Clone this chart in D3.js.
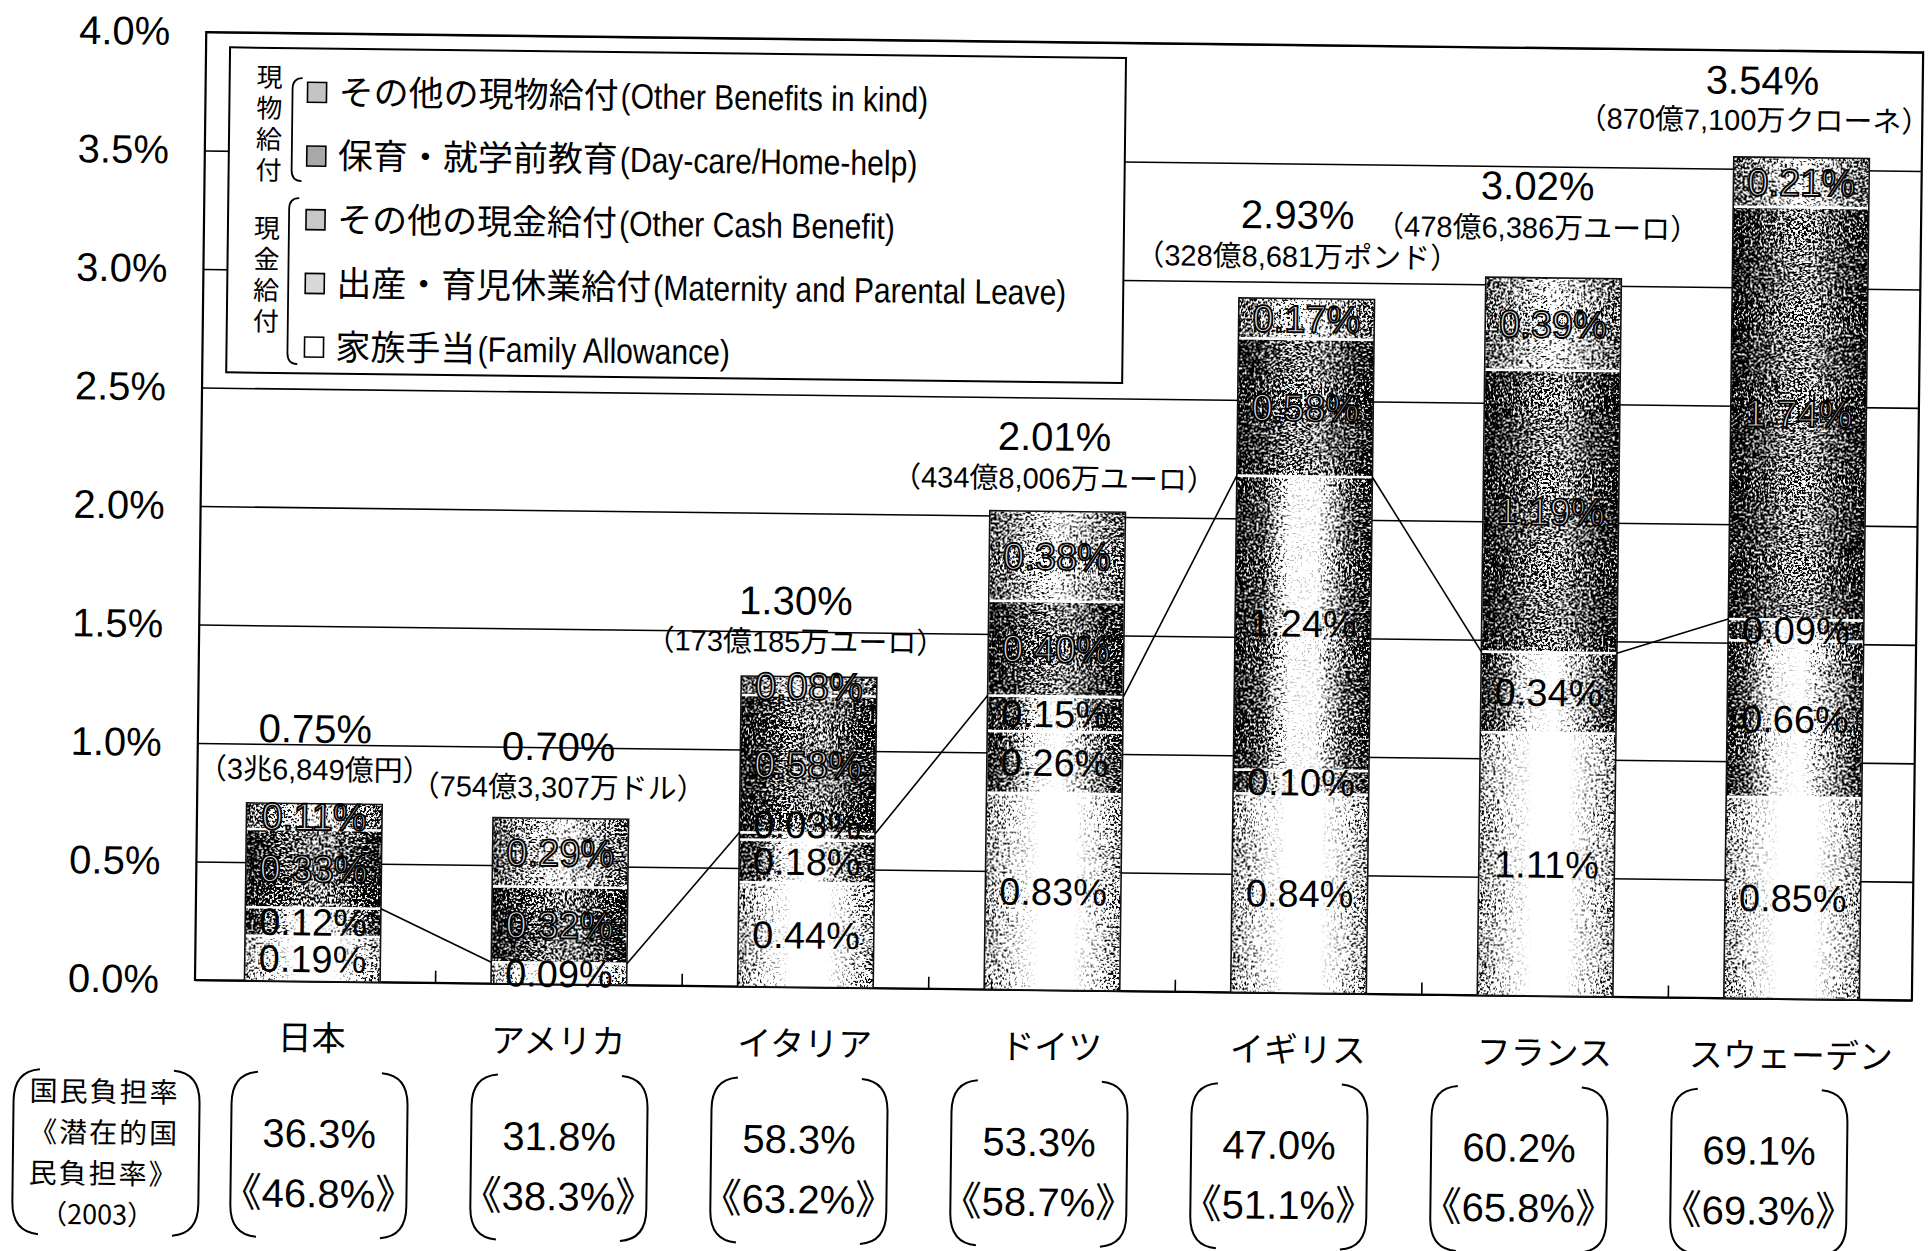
<!DOCTYPE html>
<html><head><meta charset="utf-8">
<script src="https://cdn.jsdelivr.net/npm/d3@7/dist/d3.min.js"></script>
<style>
html,body{margin:0;padding:0;background:#fff;overflow:hidden;}
svg{display:block;}
</style></head><body>
<script>
// ---------------- data ----------------
const countries = ["日本","アメリカ","イタリア","ドイツ","イギリス","フランス","スウェーデン"];
const familyAllowance   = [0.19, 0.09, 0.44, 0.83, 0.84, 1.11, 0.85];
const maternityLeave    = [0.12, 0.00, 0.18, 0.26, 0.10, 0.34, 0.66];
const otherCashBenefit  = [0.00, 0.00, 0.03, 0.15, 1.24, 0.00, 0.09];
const dayCareHomeHelp   = [0.33, 0.32, 0.58, 0.40, 0.58, 1.19, 1.74];
const otherBenefitsKind = [0.11, 0.29, 0.08, 0.38, 0.17, 0.39, 0.21];
const totalLabels  = ["0.75%","0.70%","1.30%","2.01%","2.93%","3.02%","3.54%"];
const amountLabels = ["（3兆6,849億円）","（754億3,307万ドル）","（173億185万ユーロ）","（434億8,006万ユーロ）","（328億8,681万ポンド）","（478億6,386万ユーロ）","（870億7,100万クローネ）"];
const burdenRate          = ["36.3%","31.8%","58.3%","53.3%","47.0%","60.2%","69.1%"];
const potentialBurdenRate = ["46.8%","38.3%","63.2%","58.7%","51.1%","65.8%","69.3%"];
const yTickValues = [0, 0.5, 1, 1.5, 2, 2.5, 3, 3.5, 4];
const yTickLabels = ["0.0%","0.5%","1.0%","1.5%","2.0%","2.5%","3.0%","3.5%","4.0%"];
const seriesKeys = ["family","maternity","otherCash","dayCare","otherKind"];
const legendKeys = ["otherKind","dayCare","otherCash","maternity","family"];
const legendJP = ["その他の現物給付","保育・就学前教育","その他の現金給付","出産・育児休業給付","家族手当"];
const legendEN = ["(Other Benefits in kind)","(Day-care/Home-help)","(Other Cash Benefit)","(Maternity and Parental Leave)","(Family Allowance)"];
const groupKindLabel = "現物給付";
const groupCashLabel = "現金給付";
const footerTitle = ["国民負担率","《潜在的国","民負担率》","（2003）"];

// ---------------- layout / style ----------------
const W = 1932, H = 1251;
const plotL = 195, plotR = 1912, plotT = 32, plotB = 980;
const labelDx = [0, -3, -14, -4, -10, -17, -40];
const amtDx   = [0, -3, -14, -4, -10, -17, -48];
const pctLift = [75, 72, 76, 75, 84, 92, 77];
const amtLift = [34, 31, 35, 33, 42, 50, 37];
const gradStops = {
  family:    [[0,0.5],[0.2,0.85],[0.4,1],[0.65,1],[0.85,0.8],[1,0.5]],
  maternity: [[0,0.05],[0.15,0.3],[0.35,0.9],[0.55,1],[0.75,0.6],[1,0.1]],
  otherCash: [[0,0.05],[0.2,0.25],[0.4,0.95],[0.6,0.95],[0.8,0.35],[1,0.05]],
  dayCare:   [[0,0.0],[0.4,0.4],[0.6,0.45],[1,0.02]],
  otherKind: [[0,0.28],[0.5,0.85],[1,0.3]]
};
const swatchFill = {otherKind:"#c4c4c4", dayCare:"#a8a8a8", otherCash:"#c8c8c8", maternity:"#d8d8d8", family:"#ffffff"};
const outlinedLabel = new Set(["dayCare","otherKind"]);
const LAT = "'Liberation Sans', Arial, 'Noto Sans CJK JP', sans-serif";
const JP = "'Noto Sans CJK JP', 'Noto Sans CJK SC', sans-serif";

const rows = countries.map((c, i) => ({
  country: c,
  family: familyAllowance[i], maternity: maternityLeave[i], otherCash: otherCashBenefit[i],
  dayCare: dayCareHomeHelp[i], otherKind: otherBenefitsKind[i]
}));
const stacked = d3.stack().keys(seriesKeys)(rows);

const svg = d3.select("body").append("svg").attr("width", W).attr("height", H);
const defs = svg.append("defs");

// grain / dither filter
const flt = defs.append("filter").attr("id","grain")
  .attr("x",0).attr("y",0).attr("width",1).attr("height",1)
  .attr("color-interpolation-filters","sRGB");
flt.append("feTurbulence").attr("type","fractalNoise").attr("baseFrequency",0.45)
  .attr("numOctaves",3).attr("seed",11).attr("result","noise");
flt.append("feColorMatrix").attr("in","noise").attr("type","matrix")
  .attr("values","3 0 0 0 -1  3 0 0 0 -1  3 0 0 0 -1  0 0 0 0 1").attr("result","n2");
flt.append("feComposite").attr("in","SourceGraphic").attr("in2","n2")
  .attr("operator","arithmetic").attr("k1",0).attr("k2",5).attr("k3",-5).attr("k4",1);

seriesKeys.forEach(k => {
  const g = defs.append("linearGradient").attr("id","g-"+k)
    .attr("x1",0).attr("x2",1).attr("y1",0).attr("y2",0);
  gradStops[k].forEach(([o,l]) => {
    const v = Math.round(l*255);
    g.append("stop").attr("offset",o).attr("stop-color",`rgb(${v},${v},${v})`);
  });
});

const root = svg.append("g").attr("transform", `rotate(0.68 ${plotL} ${plotB})`);

const x = d3.scaleBand().domain(countries).range([189, 1915]).paddingInner(0.45).paddingOuter(0.225);
const y = d3.scaleLinear().domain([0, 4]).range([plotB, plotT]);
const bw = x.bandwidth();

// gridlines
root.append("g").attr("transform",`translate(${plotL},0)`)
  .call(d3.axisRight(y).tickValues(yTickValues).tickSize(plotR-plotL).tickFormat(""))
  .call(g => g.select(".domain").remove())
  .selectAll("line").attr("stroke","#000").attr("stroke-width",1.6);

// y labels
root.append("g").attr("transform",`translate(${plotL},0)`)
  .call(d3.axisLeft(y).tickValues(yTickValues).tickFormat((d,i)=>yTickLabels[i]).tickSize(0).tickPadding(36))
  .call(g => g.select(".domain").remove())
  .selectAll("text").attr("font-size",40).attr("font-family",LAT).attr("fill","#000");

// frame
root.append("rect").attr("x",plotL).attr("y",plotT).attr("width",plotR-plotL).attr("height",plotB-plotT)
  .attr("fill","none").attr("stroke","#000").attr("stroke-width",2.2);

// x ticks at band boundaries
root.append("g").selectAll("line").data(countries.slice(1)).join("line")
  .attr("x1", c => x(c) - x.step()*x.paddingInner()/2)
  .attr("x2", c => x(c) - x.step()*x.paddingInner()/2)
  .attr("y1", plotB).attr("y2", plotB-12).attr("stroke","#000").attr("stroke-width",1.6);

// country names
root.append("g").attr("transform",`translate(0,${plotB})`)
  .call(d3.axisBottom(x).tickSize(0).tickPadding(0))
  .call(g => g.select(".domain").remove())
  .selectAll("text").attr("y",57).attr("dy","0.35em").attr("font-size",34)
  .attr("font-family",JP).attr("fill","#000");

// bars
const barG = root.append("g");
stacked.forEach(layer => {
  const k = layer.key;
  barG.append("g").selectAll("rect").data(layer.filter(d => d[1]-d[0] > 0)).join("rect")
    .attr("x", d => x(d.data.country)).attr("width", bw)
    .attr("y", d => y(d[1])).attr("height", d => y(d[0]) - y(d[1]))
    .attr("fill", `url(#g-${k})`).attr("filter","url(#grain)");
});
// separators
stacked.slice(0, -1).forEach(layer => {
  barG.append("g").selectAll("line").data(layer.filter(d => d[1]-d[0] > 0 && d[1] < d3.sum(seriesKeys, k => d.data[k]) - 1e-9)).join("line")
    .attr("x1", d => x(d.data.country)).attr("x2", d => x(d.data.country)+bw)
    .attr("y1", d => y(d[1])).attr("y2", d => y(d[1]))
    .attr("stroke","#fff").attr("stroke-width",2.6);
});
// outlines
barG.append("g").selectAll("rect").data(rows).join("rect")
  .attr("x", d => x(d.country)).attr("width", bw)
  .attr("y", d => y(d3.sum(seriesKeys, k => d[k]))).attr("height", d => plotB - y(d3.sum(seriesKeys, k => d[k])))
  .attr("fill","none").attr("stroke","#111").attr("stroke-width",1.6);

// series lines (top of cash benefits)
const cashTop = rows.map(d => d.family + d.maternity + d.otherCash);
root.append("g").selectAll("line").data(d3.range(countries.length-1)).join("line")
  .attr("x1", i => x(countries[i]) + bw).attr("y1", i => y(cashTop[i]))
  .attr("x2", i => x(countries[i+1])).attr("y2", i => y(cashTop[i+1]))
  .attr("stroke","#000").attr("stroke-width",1.6);

// segment labels
stacked.forEach(layer => {
  const k = layer.key;
  root.append("g").selectAll("text").data(layer.filter(d => d[1]-d[0] > 0)).join("text")
    .attr("x", d => x(d.data.country) + bw/2)
    .attr("y", d => y((d[0]+d[1])/2) - ((d[1]-d[0]) < 0.05 ? 12 : 0))
    .attr("dy","0.35em").attr("text-anchor","middle")
    .attr("font-size",38).attr("font-family",LAT)
    .attr("fill", outlinedLabel.has(k) ? "#e0e0e0" : "#000")
    .attr("stroke", outlinedLabel.has(k) ? "#000" : "none")
    .attr("stroke-width", 1.8)
    .text(d => (d[1]-d[0]).toFixed(2) + "%");
});

// totals and amounts
const topG = root.append("g");
rows.forEach((d, i) => {
  const top = y(d3.sum(seriesKeys, k => d[k]));
  const cx = x(d.country) + bw/2;
  topG.append("text").attr("x", cx + labelDx[i]).attr("y", top - pctLift[i]).attr("dy","0.35em")
    .attr("text-anchor","middle").attr("font-size",40).attr("font-family",LAT).text(totalLabels[i]);
  topG.append("text").attr("x", cx + amtDx[i]).attr("y", top - amtLift[i]).attr("dy","0.35em")
    .attr("text-anchor","middle").attr("font-size",29).attr("font-family",LAT).text(amountLabels[i]);
});

// legend
const lg = root.append("g");
lg.append("rect").attr("x",219).attr("y",47).attr("width",896).attr("height",325)
  .attr("fill","#fff").attr("stroke","#000").attr("stroke-width",2);
const rowY = i => 91 + i*63.7;
legendKeys.forEach((k, i) => {
  lg.append("rect").attr("x",297).attr("y",rowY(i)-10).attr("width",19).attr("height",20)
    .attr("fill", swatchFill[k]).attr("stroke","#000").attr("stroke-width",1.6);
  const t = lg.append("text").attr("x",328).attr("y",rowY(i)).attr("dy","0.35em")
    .attr("font-size",35).attr("font-family",JP).text(legendJP[i]);
  const w = t.node().getComputedTextLength();
  lg.append("text").attr("transform",`translate(${328 + w + 2},${rowY(i)}) scale(0.86,1)`)
    .attr("dy","0.35em").attr("font-size",35).attr("font-family",LAT).text(legendEN[i]);
});
// vertical group labels (one text each, vertical writing)
const vert = (str, xx, yTop) => {
  lg.append("text").attr("x",xx).attr("y",yTop)
    .attr("writing-mode","vertical-rl").attr("text-anchor","start")
    .attr("letter-spacing",5).attr("font-size",26).attr("font-family",JP).text(str);
};
vert(groupKindLabel, 259, 63);
vert(groupCashLabel, 258, 214);
lg.append("path").attr("d","M292,77 Q282,77 282,88 L282,169 Q282,180 292,180")
  .attr("fill","none").attr("stroke","#000").attr("stroke-width",1.8);
lg.append("path").attr("d","M290,197 Q280,197 280,208 L280,352 Q280,363 290,363")
  .attr("fill","none").attr("stroke","#000").attr("stroke-width",1.8);

// footer
const fx = d3.scaleBand().domain(countries).range([201, 1881]);
const fTop = 1071, fBot = 1236, fHalf = 88;
const bracket = (cx, half) => {
  const l = cx - half, r = cx + half;
  return `M${l+26},${fTop} Q${l},${fTop+2} ${l},${fTop+32} L${l},${fBot-32} Q${l},${fBot-2} ${l+26},${fBot}` +
         ` M${r-26},${fTop} Q${r},${fTop+2} ${r},${fTop+32} L${r},${fBot-32} Q${r},${fBot-2} ${r-26},${fBot}`;
};
const fg = root.append("g");
fg.append("path").attr("d", bracket(108, 93)).attr("fill","none").attr("stroke","#000").attr("stroke-width",2);
const ft = fg.append("text").attr("text-anchor","middle").attr("font-family",JP);
[1093, 1134, 1175, 1216].forEach((yy, j) => {
  ft.append("tspan").attr("x", j === 3 ? 100 : 106).attr("y", yy).attr("dy","0.35em")
    .attr("font-size", j === 3 ? 27 : 28).attr("letter-spacing", j === 3 ? 0 : 2).text(footerTitle[j]);
});
countries.forEach((c, i) => {
  const cx = fx(c) + fx.bandwidth()/2;
  fg.append("path").attr("d", bracket(cx, fHalf)).attr("fill","none").attr("stroke","#000").attr("stroke-width",2);
  fg.append("text").attr("x",cx).attr("y",1132).attr("dy","0.35em").attr("text-anchor","middle")
    .attr("font-size",40).attr("font-family",LAT).text(burdenRate[i]);
  const t2 = fg.append("text").attr("x",cx).attr("y",1192).attr("dy","0.35em").attr("text-anchor","middle")
    .attr("font-size",40).attr("font-family",LAT);
  t2.append("tspan").attr("font-family",JP).text("《");
  t2.append("tspan").text(potentialBurdenRate[i]);
  t2.append("tspan").attr("font-family",JP).text("》");
});
</script>
</body></html>
